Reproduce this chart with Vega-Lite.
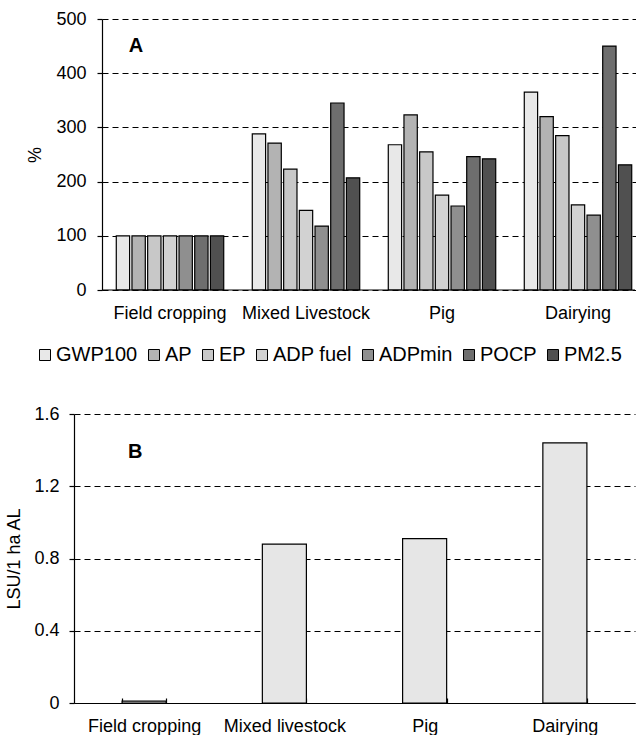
{
  "$schema": "https://vega.github.io/schema/vega-lite/v6.json",
  "padding": {"left": 5, "top": 10, "right": 0, "bottom": 0},
  "config": {
    "font": "Liberation Sans",
    "view": {"stroke": null},
    "axis": {
      "labelFont": "Liberation Sans", "labelFontSize": 18, "labelColor": "black",
      "titleFont": "Liberation Sans", "titleFontSize": 18, "titleFontWeight": "normal", "titleColor": "black",
      "domainColor": "black", "domainWidth": 1.2, "tickColor": "black", "tickWidth": 1.2,
      "gridColor": "black", "gridDash": [6, 4], "gridOpacity": 1, "gridWidth": 1
    },
    "legend": {"labelFont": "Liberation Sans", "labelColor": "black", "padding": 0}
  },
  "vconcat": [
    {
      "width": 533,
      "height": 271,
      "data": {"values": [
        {"system": "Field cropping", "indicator": "GWP100", "value": 100},
        {"system": "Field cropping", "indicator": "AP", "value": 100},
        {"system": "Field cropping", "indicator": "EP", "value": 100},
        {"system": "Field cropping", "indicator": "ADP fuel", "value": 100},
        {"system": "Field cropping", "indicator": "ADPmin", "value": 100},
        {"system": "Field cropping", "indicator": "POCP", "value": 100},
        {"system": "Field cropping", "indicator": "PM2.5", "value": 100},
        {"system": "Mixed Livestock", "indicator": "GWP100", "value": 288},
        {"system": "Mixed Livestock", "indicator": "AP", "value": 271},
        {"system": "Mixed Livestock", "indicator": "EP", "value": 223},
        {"system": "Mixed Livestock", "indicator": "ADP fuel", "value": 147},
        {"system": "Mixed Livestock", "indicator": "ADPmin", "value": 118},
        {"system": "Mixed Livestock", "indicator": "POCP", "value": 345},
        {"system": "Mixed Livestock", "indicator": "PM2.5", "value": 207},
        {"system": "Pig", "indicator": "GWP100", "value": 268},
        {"system": "Pig", "indicator": "AP", "value": 323},
        {"system": "Pig", "indicator": "EP", "value": 255},
        {"system": "Pig", "indicator": "ADP fuel", "value": 175},
        {"system": "Pig", "indicator": "ADPmin", "value": 155},
        {"system": "Pig", "indicator": "POCP", "value": 246},
        {"system": "Pig", "indicator": "PM2.5", "value": 242},
        {"system": "Dairying", "indicator": "GWP100", "value": 365},
        {"system": "Dairying", "indicator": "AP", "value": 320},
        {"system": "Dairying", "indicator": "EP", "value": 285},
        {"system": "Dairying", "indicator": "ADP fuel", "value": 157},
        {"system": "Dairying", "indicator": "ADPmin", "value": 138},
        {"system": "Dairying", "indicator": "POCP", "value": 450},
        {"system": "Dairying", "indicator": "PM2.5", "value": 231}
      ]},
      "layer": [
        {
          "mark": {"type": "bar", "stroke": "black", "strokeWidth": 1.2},
          "encoding": {
            "x": {
              "field": "system", "type": "nominal",
              "sort": ["Field cropping", "Mixed Livestock", "Pig", "Dairying"],
              "scale": {"range": [0, 544], "paddingInner": 0.21, "paddingOuter": 0.105},
              "axis": {"title": null, "labelAngle": 0, "ticks": false, "domain": false, "grid": false, "labelPadding": 14}
            },
            "xOffset": {
              "field": "indicator", "type": "nominal",
              "sort": ["GWP100", "AP", "EP", "ADP fuel", "ADPmin", "POCP", "PM2.5"],
              "scale": {"paddingInner": 0.15, "paddingOuter": 0}
            },
            "y": {
              "field": "value", "type": "quantitative",
              "scale": {"domain": [0, 500]},
              "axis": {"title": "%", "values": [0, 100, 200, 300, 400, 500], "grid": true, "tickSize": 5, "labelPadding": 11, "titlePadding": 11}
            },
            "fill": {
              "field": "indicator", "type": "nominal",
              "scale": {
                "domain": ["GWP100", "AP", "EP", "ADP fuel", "ADPmin", "POCP", "PM2.5"],
                "range": ["#e8e8e8", "#b3b3b3", "#c8c8c8", "#d2d2d2", "#8f8f8f", "#6e6e6e", "#505050"]
              },
              "legend": {
                "title": null, "orient": "none", "legendX": -67, "legendY": 326,
                "direction": "horizontal", "columns": 7,
                "symbolType": "square", "symbolSize": 121, "symbolStrokeColor": "black", "symbolStrokeWidth": 1,
                "labelFontSize": 20, "labelOffset": 1, "columnPadding": 6
              }
            }
          }
        },
        {
          "data": {"values": [{"base": 0}]},
          "mark": {"type": "rule", "color": "black", "strokeWidth": 1.2},
          "encoding": {"y": {"field": "base", "type": "quantitative"}}
        },
        {
          "data": {"values": [{"label": "A"}]},
          "mark": {"type": "text", "fontWeight": "bold", "fontSize": 20, "dx": -34, "color": "black"},
          "encoding": {
            "x": {"datum": "Field cropping"},
            "y": {"datum": 451},
            "text": {"field": "label"}
          }
        }
      ]
    },
    {
      "width": 533,
      "height": 289,
      "data": {"values": [
        {"system": "Field cropping", "lsu": 0.01},
        {"system": "Mixed livestock", "lsu": 0.88},
        {"system": "Pig", "lsu": 0.91},
        {"system": "Dairying", "lsu": 1.44}
      ]},
      "layer": [
        {
          "mark": {"type": "bar", "fill": "#e6e6e6", "stroke": "black", "strokeWidth": 1.2},
          "encoding": {
            "x": {
              "field": "system", "type": "nominal",
              "sort": ["Field cropping", "Mixed livestock", "Pig", "Dairying"],
              "scale": {"range": [-28, 533], "paddingInner": 0.686, "paddingOuter": 0.343},
              "axis": {"title": null, "labelAngle": 0, "tickBand": "extent", "tickSize": -5, "labelPadding": 19, "grid": false}
            },
            "y": {
              "field": "lsu", "type": "quantitative",
              "scale": {"domain": [0, 1.6]},
              "axis": {"title": "LSU/1 ha AL", "offset": 28, "values": [0, 0.4, 0.8, 1.2, 1.6], "format": "~g", "grid": true, "tickSize": 5, "labelPadding": 10, "titlePadding": 10}
            }
          }
        },
        {
          "data": {"values": [{"label": "B"}]},
          "mark": {"type": "text", "fontWeight": "bold", "fontSize": 20, "dx": -9, "color": "black"},
          "encoding": {
            "x": {"datum": "Field cropping"},
            "y": {"datum": 1.388},
            "text": {"field": "label"}
          }
        }
      ]
    }
  ],
  "spacing": 83
}
